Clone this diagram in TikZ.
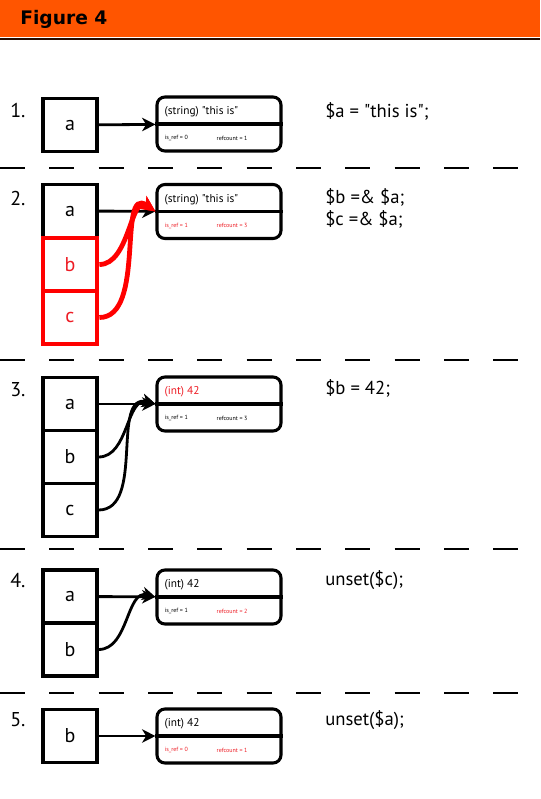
\documentclass[tikz,border=0pt]{standalone}
\usepackage{fontspec}
\setmainfont{PT Sans}[Ligatures=TeXOff]
\newfontfamily\headfont{DejaVu Sans}
\usetikzlibrary{arrows.meta}

\definecolor{headorange}{RGB}{255,85,0}
\definecolor{refred}{RGB}{237,28,36}

\begin{document}
\begin{tikzpicture}[x=0.75pt,y=-0.75pt,
    cell/.style={draw,line width=2.3pt,minimum width=40.5pt,minimum height=39.75pt,inner sep=0pt,font=\fontsize{15}{18}\selectfont},
    redcell/.style={cell,draw=red,line width=3.6pt,text=refred},
    zval/.style={draw,line width=2.3pt,rounded corners=6pt,minimum width=93pt,minimum height=40.5pt,inner sep=0pt},
    vtitle/.style={anchor=west,inner sep=0pt,font=\fontsize{8.5}{10}\selectfont},
    vsmall/.style={anchor=west,inner sep=0pt,font=\fontsize{4.5}{5}\selectfont},
    num/.style={anchor=west,inner sep=0pt,font=\fontsize{15}{18}\selectfont},
    code/.style={anchor=west,inner sep=0pt,font=\fontsize{14}{17}\selectfont},
    ptr/.style={line width=2.1pt,-{Stealth[length=10pt,width=10pt,inset=3pt]}},
    redptr/.style={line width=3.6pt,red,-{Stealth[length=12pt,width=11pt,inset=3pt]}},
    sep/.style={line width=2.2pt,dash pattern=on 18.75pt off 18.25pt}]
    \useasboundingbox (0,0) rectangle (540,799);
    \fill[headorange] (0,0) rectangle (540,37.5);
    \draw[line width=1.1pt,black!85!headorange] (0,39) -- (540,39);
    \node[anchor=west,inner sep=0pt,font=\headfont\bfseries\fontsize{14}{16}\selectfont] (title) at (20,19) {Figure 4};

    \draw[sep] (0,168) -- (540,168);
    \draw[sep] (0,360) -- (540,360);
    \draw[sep] (0,549) -- (540,549);
    \draw[sep] (0,693) -- (540,693);

    % 1.
    \node[num] (n1) at (10,110) {1.};
    \node[cell] (a1) at (70,125) {a};
    \node[zval] (v1) at (219,124) {};
    \draw[line width=2.3pt] (v1.west) -- (v1.east);
    \node[vtitle] (t1) at ([shift={(9,-12)}]v1.west) {(string) "this is"};
    \node[vsmall] (r1) at ([shift={(9,14)}]v1.west) {is\_ref = 0};
    \node[vsmall] (k1) at ([shift={(61,14)}]v1.west) {refcount = 1};
    \draw[ptr] (a1) -- (v1);
    \node[code] (s1) at (325,111) {\$a = "this is";};

    % 2.
    \node[num] (n2) at (10,198) {2.};
    \node[cell] (a2) at (70,211) {a};
    \node[zval] (v2) at (219,211.5) {};
    \draw[line width=2.3pt] (v2.west) -- (v2.east);
    \node[vtitle] (t2) at ([shift={(9,-12)}]v2.west) {(string) "this is"};
    \node[vsmall,text=refred] (r2) at ([shift={(9,14)}]v2.west) {is\_ref = 1};
    \node[vsmall,text=refred] (k2) at ([shift={(61,14)}]v2.west) {refcount = 3};
    \node[redcell] (b2) at (70,264.5) {b};
    \node[redcell] (c2) at (70,317.5) {c};
    \draw[ptr] (a2) -- (v2);
    \draw[redptr] (b2.east) to[out=0,in=145] (v2.west);
    \draw[redptr] (c2.east) to[out=0,in=145] (v2.west);
    \node[code] (s2) at (325,197) {\$b =\& \$a;};
    \node[code] (s3) at (325,219) {\$c =\& \$a;};

    % 3.
    \node[num] (n3) at (10,390) {3.};
    \node[cell] (a3) at (70,404) {a};
    \node[cell] (b3) at (70,457) {b};
    \node[cell] (c3) at (70,510) {c};
    \node[zval] (v3) at (219,404) {};
    \draw[line width=2.3pt] (v3.west) -- (v3.east);
    \node[vtitle,text=refred] (t3) at ([shift={(9,-12)}]v3.west) {(int) 42};
    \node[vsmall] (r3) at ([shift={(9,14)}]v3.west) {is\_ref = 1};
    \node[vsmall] (k3) at ([shift={(61,14)}]v3.west) {refcount = 3};
    \draw[ptr] (a3) -- (v3);
    \draw[ptr] (b3.east) to[out=0,in=165] (v3.west);
    \draw[ptr] (c3.east) to[out=0,in=165] (v3.west);
    \node[code] (s4) at (325,388) {\$b = 42;};

    % 4.
    \node[num] (n4) at (10,581) {4.};
    \node[cell] (a4) at (70,596.5) {a};
    \node[cell] (b4) at (70,649.5) {b};
    \node[zval] (v4) at (219,597) {};
    \draw[line width=2.3pt] (v4.west) -- (v4.east);
    \node[vtitle] (t4) at ([shift={(9,-12)}]v4.west) {(int) 42};
    \node[vsmall] (r4) at ([shift={(9,14)}]v4.west) {is\_ref = 1};
    \node[vsmall,text=refred] (k4) at ([shift={(61,14)}]v4.west) {refcount = 2};
    \draw[ptr] (a4) -- (v4);
    \draw[ptr] (b4.east) to[out=0,in=165] (v4.west);
    \node[code] (s5) at (325,580) {unset(\$c);};

    % 5.
    \node[num] (n5) at (10,720) {5.};
    \node[cell] (b5) at (70,736) {b};
    \node[zval] (v5) at (219,736) {};
    \draw[line width=2.3pt] (v5.west) -- (v5.east);
    \node[vtitle] (t5) at ([shift={(9,-12)}]v5.west) {(int) 42};
    \node[vsmall,text=refred] (r5) at ([shift={(9,14)}]v5.west) {is\_ref = 0};
    \node[vsmall,text=refred] (k5) at ([shift={(61,14)}]v5.west) {refcount = 1};
    \draw[ptr] (b5) -- (v5);
    \node[code] (s6) at (325,720) {unset(\$a);};
\end{tikzpicture}
\end{document}
